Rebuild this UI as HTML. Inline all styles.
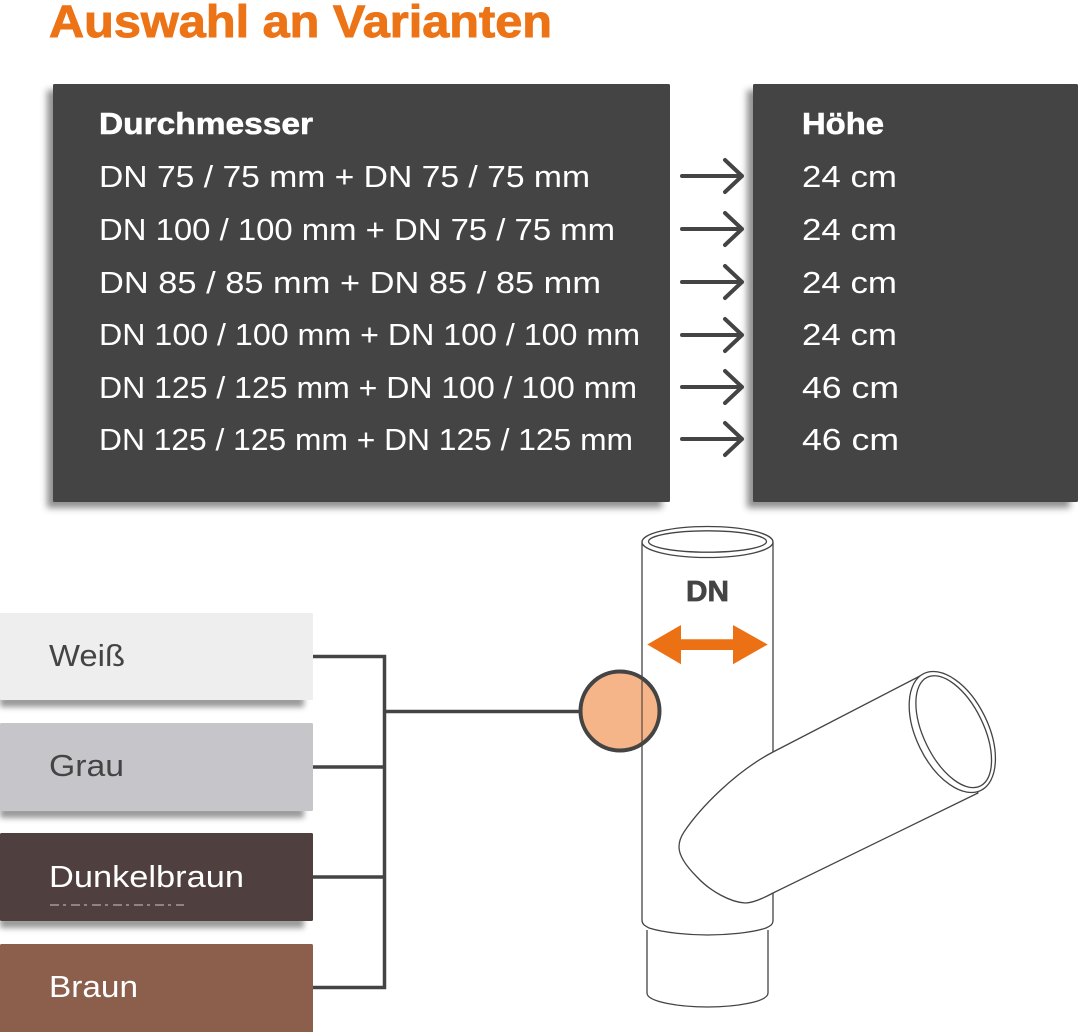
<!DOCTYPE html>
<html lang="de"><head><meta charset="utf-8"><title>Auswahl an Varianten</title>
<style>html,body{margin:0;padding:0;background:#fff}svg{display:block}
text{font-family:"Liberation Sans",sans-serif}</style></head>
<body>
<svg xmlns="http://www.w3.org/2000/svg" width="1080" height="1032" viewBox="0 0 1080 1032">
<defs>
<filter id="s" x="-10%" y="-10%" width="120%" height="125%"><feGaussianBlur stdDeviation="3.500"/></filter>
<filter id="t" x="-5%" y="-40%" width="110%" height="180%"><feGaussianBlur stdDeviation="3"/></filter>
</defs>
<rect width="1080" height="1032" fill="#fff"/>

<text x="49" y="37" font-size="45" font-weight="700" fill="#ec7316" stroke="#ec7316" stroke-width=".9" textLength="503" lengthAdjust="spacingAndGlyphs">Auswahl an Varianten</text>

<!-- panels -->
<rect x="47" y="90" width="615" height="418" fill="#555" opacity=".65" filter="url(#s)"/>
<rect x="747" y="90" width="323" height="418" fill="#555" opacity=".65" filter="url(#s)"/>
<rect x="53" y="84" width="617" height="418" rx="1.500" fill="#444"/>
<rect x="753" y="84" width="325" height="418" rx="1.500" fill="#444"/>

<g fill="#fff" font-size="31">
<text x="99" y="134" font-weight="700" stroke="#fff" stroke-width=".6" textLength="214" lengthAdjust="spacingAndGlyphs">Durchmesser</text>
<text x="99" y="187" textLength="491" lengthAdjust="spacingAndGlyphs">DN 75 / 75 mm + DN 75 / 75 mm</text>
<text x="99" y="240" textLength="516" lengthAdjust="spacingAndGlyphs">DN 100 / 100 mm + DN 75 / 75 mm</text>
<text x="99" y="293" textLength="502" lengthAdjust="spacingAndGlyphs">DN 85 / 85 mm + DN 85 / 85 mm</text>
<text x="99" y="345" textLength="541" lengthAdjust="spacingAndGlyphs">DN 100 / 100 mm + DN 100 / 100 mm</text>
<text x="99" y="398" textLength="538" lengthAdjust="spacingAndGlyphs">DN 125 / 125 mm + DN 100 / 100 mm</text>
<text x="99" y="450" textLength="534" lengthAdjust="spacingAndGlyphs">DN 125 / 125 mm + DN 125 / 125 mm</text>
<text x="802" y="134" font-weight="700" stroke="#fff" stroke-width=".6" textLength="82" lengthAdjust="spacingAndGlyphs">Höhe</text>
<text x="802" y="187" textLength="95" lengthAdjust="spacingAndGlyphs">24 cm</text>
<text x="802" y="240" textLength="95" lengthAdjust="spacingAndGlyphs">24 cm</text>
<text x="802" y="293" textLength="95" lengthAdjust="spacingAndGlyphs">24 cm</text>
<text x="802" y="345" textLength="95" lengthAdjust="spacingAndGlyphs">24 cm</text>
<text x="802" y="398" textLength="97" lengthAdjust="spacingAndGlyphs">46 cm</text>
<text x="802" y="450" textLength="97" lengthAdjust="spacingAndGlyphs">46 cm</text>
</g>

<!-- arrows -->
<g fill="none" stroke="#444" stroke-width="4" stroke-linecap="round" stroke-linejoin="round">
<path d="M682 176H742M725 160L742 176L725 192"/>
<path d="M682 229H742M725 213L742 229L725 245"/>
<path d="M682 282H742M725 266L742 282L725 298"/>
<path d="M682 335H742M725 319L742 335L725 351"/>
<path d="M682 387H742M725 371L742 387L725 403"/>
<path d="M682 439H742M725 423L742 439L725 455"/>
</g>

<!-- colour swatches -->
<g fill="#555" opacity=".6" filter="url(#t)">
<rect x="0" y="696" width="304" height="11"/>
<rect x="0" y="807" width="304" height="11"/>
<rect x="0" y="917" width="304" height="11"/>
</g>
<rect x="0" y="613" width="313" height="87" rx="1.500" fill="#eeeeee"/>
<rect x="0" y="723" width="313" height="88" rx="1.500" fill="#c6c6ca"/>
<rect x="0" y="833" width="313" height="88" rx="1.500" fill="#4f3f3e"/>
<rect x="0" y="944" width="313" height="90" rx="1.500" fill="#8c5f4d"/>
<g font-size="31">
<text x="49" y="666" fill="#444" textLength="76" lengthAdjust="spacingAndGlyphs">Weiß</text>
<text x="49" y="776" fill="#444" textLength="75" lengthAdjust="spacingAndGlyphs">Grau</text>
<text x="49" y="887" fill="#fff" textLength="195" lengthAdjust="spacingAndGlyphs">Dunkelbraun</text>
<text x="49" y="997" fill="#fff" textLength="89" lengthAdjust="spacingAndGlyphs">Braun</text>
</g>
<path d="M50 905H184" stroke="#cfc8c7" stroke-width="1" stroke-dasharray="9 4 3 5" fill="none"/>

<!-- connectors -->
<g fill="none" stroke="#444">
<path d="M313 656.500H384.500V987.500H313" stroke-width="3.500"/>
<path d="M313 767H384M313 877H384" stroke-width="3.500"/>
<path d="M384 711.500H580" stroke-width="3.500"/>
</g>

<!-- pipe -->
<g fill="#fff" stroke="#444" stroke-width="1.300">
<path d="M647 930V993C647 1002 680 1007 707.500 1007C735 1007 768 1002 768 993V930" />
<path d="M642 542V920C642 925 646 926 649 928C665 933 690 935 707.500 935C725 935 752 933 766 928C770 926 773 925 773 920V542"/>
<ellipse cx="707.500" cy="542" rx="65.500" ry="15.500"/>
<ellipse cx="707.500" cy="541.500" rx="59" ry="10.700"/>
</g>

<text x="686" y="601" font-size="29" font-weight="700" fill="#444" stroke="#444" stroke-width=".7" textLength="43" lengthAdjust="spacingAndGlyphs">DN</text>
<path d="M647.300 644.500L681 625V639.300H733V625L767.700 644.500L733 664.300V650H681V664.300Z" fill="#ec7014"/>

<!-- circle -->
<circle cx="620" cy="711" r="39.500" fill="#f6b588" stroke="#444" stroke-width="4"/>
<path d="M642 678V744" stroke="#55473e" stroke-width="1.200"/>

<!-- branch -->
<path d="M773 752L920 676L978 793L773 893C762 899 752 903 745 903C730 902 710 891 697 877C686 866 679 856 679 847C679 840 682 835 684 832C700 808 735 772 773 752Z" fill="#fff" stroke="#444" stroke-width="1.300" stroke-linejoin="round"/>
<ellipse cx="952.300" cy="732" rx="65" ry="36" transform="rotate(64 952.300 732)" fill="#fff" stroke="#444" stroke-width="1.300"/>
<ellipse cx="953.700" cy="731.700" rx="60.500" ry="30" transform="rotate(64 953.700 731.700)" fill="#fff" stroke="#444" stroke-width="1.300"/>
</svg>
</body></html>
